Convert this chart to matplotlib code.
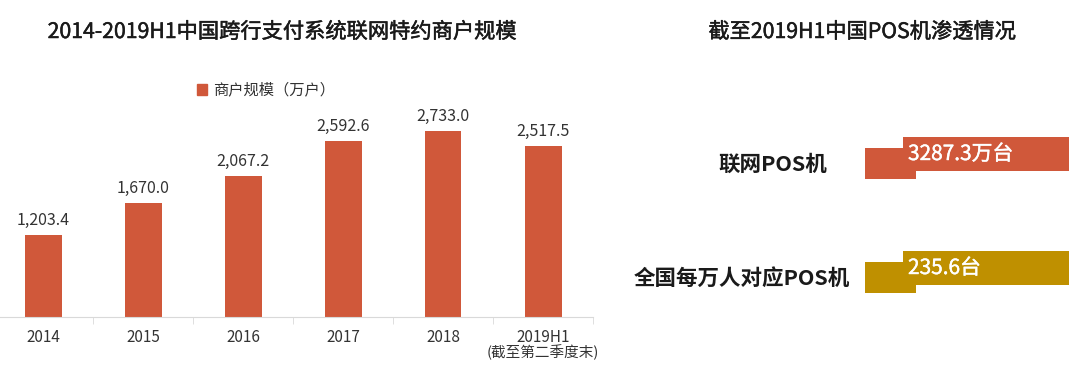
import matplotlib
matplotlib.use("Agg")
import matplotlib.pyplot as plt
import matplotlib.patheffects as pe
from matplotlib.patches import Patch

plt.rcParams['font.family'] = ['Noto Sans CJK SC', 'DejaVu Sans']

# ---- data ----
years = ['2014', '2015', '2016', '2017', '2018', '2019H1']
merchants = [1203.4, 1670.0, 2067.2, 2592.6, 2733.0, 2517.5]
sub_note = '(截至第二季度末)'
legend_label = '商户规模（万户）'
left_title = '2014-2019H1中国跨行支付系统联网特约商户规模'
right_title = '截至2019H1中国POS机渗透情况'
pos_labels = ['联网POS机', '全国每万人对应POS机']
pos_values = ['3287.3万台', '235.6台']

RED = '#D0583A'
GOLD = '#BF9000'
W, H = 1080, 375

fig = plt.figure(figsize=(10.8, 3.75), dpi=100)

# ---- left bar chart ----
ax = fig.add_axes([0 / W, (H - 317) / H, 593 / W, 204 / H])
x = list(range(len(years)))
ax.bar(x, merchants, width=0.37, color=RED, zorder=2)
ax.set_xlim(-0.43, 5.5)
ax.set_ylim(0, 3000)
for i, v in zip(x, merchants):
    ax.text(i, v + 90, f'{v:,.1f}', ha='center', va='bottom', fontsize=11.5, color='#333333')
for s in ['top', 'right', 'left']:
    ax.spines[s].set_visible(False)
ax.spines['bottom'].set_color('#d9d9d9')
ax.set_yticks([])
ax.set_xticks(x)
ax.set_xticklabels(years, fontsize=11, color='#333333')
ax.tick_params(axis='x', which='major', length=0, pad=9)
ax.set_xticks([i + 0.5 for i in x], minor=True)
ax.tick_params(axis='x', which='minor', length=5, color='#d9d9d9')
ax.text(5, -0.135, sub_note, transform=ax.get_xaxis_transform(), ha='center', va='top',
        fontsize=10.5, color='#333333')
ax.legend(handles=[Patch(color=RED, label=legend_label)], loc='center',
          bbox_to_anchor=(266 / W, 1 - 90 / H), bbox_transform=fig.transFigure,
          frameon=False, fontsize=11, handlelength=0.7, handleheight=0.7,
          handletextpad=0.4, labelcolor='#333333')

medium_dark = [pe.withStroke(linewidth=0.35, foreground='#1a1a1a')]
fig.text(282 / W, 1 - 32 / H, left_title, ha='center', va='center', fontsize=15.3,
         color='#1a1a1a', path_effects=medium_dark)
fig.text(862 / W, 1 - 32 / H, right_title, ha='center', va='center', fontsize=15.3,
         color='#1a1a1a', path_effects=medium_dark)

# ---- right decorative panel (pixel coordinates) ----
ax2 = fig.add_axes([0, 0, 1, 1], facecolor='none')
ax2.set_xlim(0, W)
ax2.set_ylim(H, 0)
ax2.axis('off')
colors = [RED, GOLD]
row_top = [137, 251]
label_cx = [773, 742]
medium_white = [pe.withStroke(linewidth=0.3, foreground='white')]
for k in range(2):
    t = row_top[k]
    ax2.barh(t + 11 + 15.5, 51, left=865, height=31, color=colors[k])
    ax2.barh(t + 17, 166, left=903, height=34, color=colors[k])
    ax2.text(908, t + 17, pos_values[k], ha='left', va='center', fontsize=15,
             color='white', path_effects=medium_white)
    ax2.text(label_cx[k], t + 27, pos_labels[k], ha='center', va='center', fontsize=15.5,
             fontweight='bold', color='#1a1a1a')

fig.savefig('out.png', dpi=100)
